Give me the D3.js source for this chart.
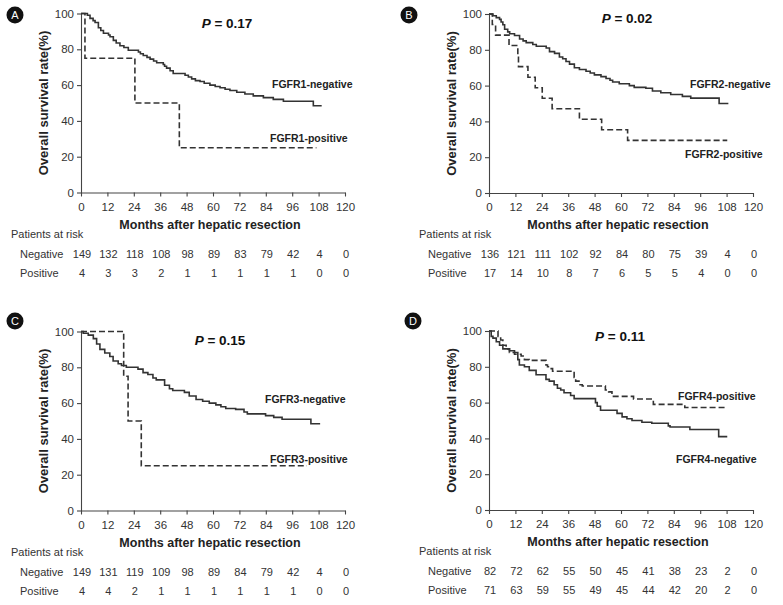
<!DOCTYPE html>
<html><head><meta charset="utf-8">
<script src="https://cdn.jsdelivr.net/npm/d3@7"></script>
<style>
body{margin:0;background:#fff}
svg{display:block}
text{font-family:"Liberation Sans",Arial,Helvetica,sans-serif}
</style>
</head><body>
<svg id="chart" width="783" height="605"></svg>
<script>
// ---- data ----
const monthTicks = [0, 12, 24, 36, 48, 60, 72, 84, 96, 108, 120];
const survivalTicks = [0, 20, 40, 60, 80, 100];
const panelLetters = ["A", "B", "C", "D"];
const pValues = ["0.17", "0.02", "0.15", "0.11"];
const negLabels = ["FGFR1-negative", "FGFR2-negative", "FGFR3-negative", "FGFR4-negative"];
const posLabels = ["FGFR1-positive", "FGFR2-positive", "FGFR3-positive", "FGFR4-positive"];

// Kaplan-Meier steps: [month, survival % after the step]
const fgfr1Neg = [[0,100],[2.9,99],[4.1,97.3],[5.5,96],[6.4,95],[7.9,92],[9,90.5],[10.2,89],[12.5,88],[13.2,87],[14.7,85],[16,83.5],[17.7,82],[19.5,81],[21.5,79.5],[26.1,78.5],[27,77.5],[28.3,76.5],[30,75.5],[31.4,74.5],[33,73.5],[34.4,72.5],[37.4,71.5],[38,70.5],[38.9,69.5],[40.5,68],[41.9,66.5],[47.3,65.5],[48.8,64.5],[50.3,63.5],[52,62.5],[54.1,62],[56,61],[58.6,60],[61,59.2],[63.2,58.5],[65.5,57.7],[67.7,57],[70.8,56],[74.5,55],[78.3,54],[82.9,53],[87.4,52],[92,51],[105.6,48.5],[109.4,48.5]];
const fgfr1Pos = [[0,100],[1.8,75],[24.5,50],[44.7,25],[107,25]];
const fgfr2Neg = [[0,100],[1.8,99],[3.3,98],[4.8,97],[5.5,95.5],[6.3,94],[7.1,91.5],[8.5,90],[9.4,89],[11.6,88],[13.9,86],[15.5,85],[16.9,84],[19.9,83],[21.5,82],[26,81],[27.5,79],[29.8,78],[32,76],[33.5,75],[35,73.5],[36.6,72],[38.8,70],[41.1,69],[44.1,68],[46,67],[47.9,66],[50.9,65],[53.2,64],[55,63],[56.2,62],[59.2,61],[63.8,60],[66,59],[71.3,58.5],[74.3,57],[78.1,56],[82.6,55],[87.9,54],[91.7,53],[104.6,50],[108.8,50]];
const fgfr2Pos = [[0,100],[1.5,94.1],[3,88.2],[9.1,82.4],[13.1,76.5],[13.4,70.6],[17.7,64.7],[21,58.8],[24.2,52.9],[28.7,47.1],[41.1,41.2],[51.2,35.3],[63,29.4],[108.3,29.4]];
const fgfr3Neg = [[0,100],[1,99],[3.3,98],[5.6,96],[7.1,93],[8.6,90],[10.8,88],[13.1,86],[14.6,83.5],[16.9,82],[18.4,81],[20.6,80],[25.9,79],[28.2,77],[30.4,76],[32.7,74],[34.2,73],[38,70],[40.2,68],[41.7,67],[47,66],[49.2,64],[52.3,62],[55.3,61],[58.3,60],[61.3,59],[63.6,58],[65.8,57],[70.3,56.5],[74.1,55],[75.6,54],[83.9,53],[87.6,52],[91.4,51],[104.5,48.5],[108.7,48.5]];
const fgfr3Pos = [[0,100],[19.4,75],[21.4,50],[27.4,25],[102.7,25]];
const fgfr4Neg = [[0,100],[1,97],[1.8,96],[3.3,94],[4.8,92],[6.3,90],[9.3,89],[11.6,88],[13.1,84],[13.8,81],[16.1,80],[18.3,78],[21.4,75.6],[25.9,73],[27.4,72],[29.6,70],[31.1,68],[32.6,67],[34.1,65.5],[37.1,64],[38.7,62.2],[48.4,60],[49.2,58],[50.7,55.7],[58.2,54],[60.5,52],[62.7,51],[65,50],[69.5,49],[74,48.5],[81.5,47],[82.3,46.4],[91.3,45],[104.4,41],[108.3,41]];
const fgfr4Pos = [[0,100],[4.1,97],[5.3,95],[6.3,92],[7.8,90],[9.3,88],[11.6,87],[14.6,86],[16.1,84],[18.3,83.6],[25.9,81],[26.6,80],[27.4,79],[28.9,77.5],[38.7,74],[39.4,72],[40.9,70],[42.4,69.3],[52.9,67],[54.4,66],[55.9,63.5],[65.7,62],[74.7,59],[89,57.3],[108.3,57.3]];

// Numbers at risk (at 0,12,...,120 months)
const risk1Neg = [149,132,118,108,98,89,83,79,42,4,0];
const risk1Pos = [4,3,3,2,1,1,1,1,1,0,0];
const risk2Neg = [136,121,111,102,92,84,80,75,39,4,0];
const risk2Pos = [17,14,10,8,7,6,5,5,4,0,0];
const risk3Neg = [149,131,119,109,98,89,84,79,42,4,0];
const risk3Pos = [4,4,2,1,1,1,1,1,1,0,0];
const risk4Neg = [82,72,62,55,50,45,41,38,23,2,0];
const risk4Pos = [71,63,59,55,49,45,44,42,20,2,0];

// ---- layout ----
const layout = [
  {left:81,  top:13.5, cx:15,  cy:15,  px:146, py:14, negL:[191,74.5], posL:[189,128.5]},
  {left:489, top:14,   cx:409, cy:15,  px:138, py:9,  negL:[201,74],   posL:[196,144]},
  {left:81,  top:331.5,cx:15,  cy:321, px:139, py:13, negL:[184,71],   posL:[189,131]},
  {left:489, top:331,  cx:413, cy:321, px:131, py:10, negL:[187,132],  posL:[189,69]}
];
const negCurves = [fgfr1Neg, fgfr2Neg, fgfr3Neg, fgfr4Neg];
const posCurves = [fgfr1Pos, fgfr2Pos, fgfr3Pos, fgfr4Pos];
const negRisk = [risk1Neg, risk2Neg, risk3Neg, risk4Neg];
const posRisk = [risk1Pos, risk2Pos, risk3Pos, risk4Pos];

const W = 264, H = 179;
const svg = d3.select("#chart");
const lineCol = "#333";
const textCol = "#333";

layout.forEach((L, i) => {
  const g = svg.append("g");
  const x = d3.scaleLinear().domain([0, 120]).range([L.left, L.left + W]);
  const y = d3.scaleLinear().domain([0, 100]).range([L.top + H, L.top]);

  // axes
  const xa = g.append("g").attr("transform", `translate(0,${L.top + H})`)
    .call(d3.axisBottom(x).tickValues(monthTicks).tickSize(4).tickSizeOuter(0).tickPadding(6));
  const ya = g.append("g").attr("transform", `translate(${L.left},0)`)
    .call(d3.axisLeft(y).tickValues(survivalTicks).tickSize(4).tickSizeOuter(0).tickPadding(3));
  [xa, ya].forEach(a => {
    a.selectAll("path,line").attr("stroke", "#444").attr("stroke-width", 1.1);
    a.selectAll("text").attr("fill", textCol).style("font-size", "11.5px")
      .style("font-family", '"Liberation Sans",Arial,sans-serif');
  });

  // titles
  g.append("text").attr("x", L.left + W / 2 - 3).attr("y", L.top + H + 36)
    .attr("text-anchor", "middle").style("font-size", "12.5px").style("font-weight", "bold")
    .attr("fill", "#222").text("Months after hepatic resection");
  g.append("text").attr("transform", `translate(${L.left - 38},${L.top + H / 2}) rotate(-90)`)
    .attr("text-anchor", "middle").attr("dominant-baseline", "central")
    .style("font-size", "13px").style("font-weight", "bold").attr("fill", "#222")
    .text("Overall survival rate(%)");

  // curves
  const line = d3.line().x(d => x(d[0])).y(d => y(d[1])).curve(d3.curveStepAfter);
  g.append("path").datum(negCurves[i]).attr("d", line).attr("fill", "none")
    .attr("stroke", lineCol).attr("stroke-width", 1.6);
  g.append("path").datum(posCurves[i]).attr("d", line).attr("fill", "none")
    .attr("stroke", lineCol).attr("stroke-width", 1.6).attr("stroke-dasharray", "6,3");

  // curve labels
  g.append("text").attr("x", L.left + L.negL[0]).attr("y", L.top + L.negL[1])
    .style("font-size", "10.5px").style("font-weight", "bold").attr("fill", "#222").text(negLabels[i]);
  g.append("text").attr("x", L.left + L.posL[0]).attr("y", L.top + L.posL[1])
    .style("font-size", "10.5px").style("font-weight", "bold").attr("fill", "#222").text(posLabels[i]);

  // P value
  const pt = g.append("text").attr("x", L.left + L.px).attr("y", L.top + L.py)
    .attr("text-anchor", "middle").style("font-size", "13.5px").style("font-weight", "bold").attr("fill", "#111");
  pt.append("tspan").style("font-style", "italic").text("P");
  pt.append("tspan").text(" = " + pValues[i]);

  // panel letter
  g.append("circle").attr("cx", L.cx).attr("cy", L.cy).attr("r", 8.5).attr("fill", "#111");
  g.append("text").attr("x", L.cx).attr("y", L.cy).attr("text-anchor", "middle")
    .attr("dominant-baseline", "central").style("font-size", "11px").attr("fill", "#fff").text(panelLetters[i]);

  // risk table
  const base = L.top + H;
  g.append("text").attr("x", L.left - 70).attr("y", base + 45).style("font-size", "11px")
    .attr("fill", textCol).text("Patients at risk");
  g.append("text").attr("x", L.left - 61).attr("y", base + 65).style("font-size", "11px")
    .attr("fill", textCol).text("Negative");
  g.append("text").attr("x", L.left - 61).attr("y", base + 84).style("font-size", "11px")
    .attr("fill", textCol).text("Positive");
  g.selectAll(null).data(negRisk[i]).enter().append("text")
    .attr("x", (d, k) => x(monthTicks[k]) + 1).attr("y", base + 65).attr("text-anchor", "middle")
    .style("font-size", "11px").attr("fill", textCol).text(d => d);
  g.selectAll(null).data(posRisk[i]).enter().append("text")
    .attr("x", (d, k) => x(monthTicks[k]) + 1).attr("y", base + 84).attr("text-anchor", "middle")
    .style("font-size", "11px").attr("fill", textCol).text(d => d);
});
</script>
</body></html>
